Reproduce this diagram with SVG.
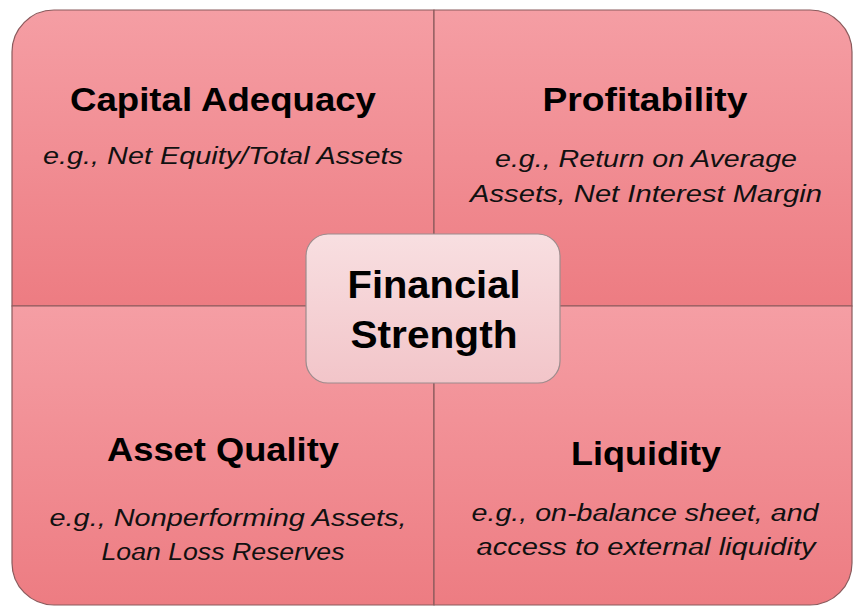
<svg xmlns="http://www.w3.org/2000/svg" width="853" height="606" viewBox="0 0 853 606">
<defs>
<linearGradient id="qg" x1="0" y1="0" x2="0" y2="1">
<stop offset="0" stop-color="#f59ea4"/>
<stop offset="1" stop-color="#ed7c82"/>
</linearGradient>
<linearGradient id="cg" x1="0" y1="0" x2="0" y2="1">
<stop offset="0" stop-color="#f8dfe1"/>
<stop offset="1" stop-color="#f2c5c9"/>
</linearGradient>
</defs>
<style>
.q{fill:url(#qg);stroke:#8a5a5c;stroke-width:1.2}
.t{font-family:"Liberation Sans",Arial,sans-serif;font-weight:bold;font-size:34px;fill:#000;text-anchor:middle}
.s{font-family:"Liberation Sans",Arial,sans-serif;font-style:italic;font-size:23px;fill:#111;text-anchor:middle}
.c{font-family:"Liberation Sans",Arial,sans-serif;font-weight:bold;font-size:38px;fill:#000;text-anchor:middle}
</style>
<g id="capital-adequacy">
<path class="q" d="M12,306 V52 A42,42 0 0 1 54,10 H434 V306 Z"/>
<text class="t" x="223" y="111" textLength="306" lengthAdjust="spacingAndGlyphs">Capital Adequacy</text>
<text class="s" x="223" y="164" textLength="360" lengthAdjust="spacingAndGlyphs">e.g., Net Equity/Total Assets</text>
</g>
<g id="profitability">
<path class="q" d="M434,306 V10 H810 A42,42 0 0 1 852,52 V306 Z"/>
<text class="t" x="645" y="111" textLength="205" lengthAdjust="spacingAndGlyphs">Profitability</text>
<text class="s" x="646" y="167" textLength="302" lengthAdjust="spacingAndGlyphs">e.g., Return on Average</text>
<text class="s" x="646" y="202" textLength="352" lengthAdjust="spacingAndGlyphs">Assets, Net Interest Margin</text>
</g>
<g id="asset-quality">
<path class="q" d="M12,306 H434 V605 H54 A42,42 0 0 1 12,563 Z"/>
<text class="t" x="223" y="461" textLength="232" lengthAdjust="spacingAndGlyphs">Asset Quality</text>
<text class="s" x="228" y="526" textLength="357" lengthAdjust="spacingAndGlyphs">e.g., Nonperforming Assets,</text>
<text class="s" x="223" y="560" textLength="243" lengthAdjust="spacingAndGlyphs">Loan Loss Reserves</text>
</g>
<g id="liquidity">
<path class="q" d="M434,306 H852 V563 A42,42 0 0 1 810,605 H434 Z"/>
<text class="t" x="646" y="465" textLength="150" lengthAdjust="spacingAndGlyphs">Liquidity</text>
<text class="s" x="645" y="521" textLength="347" lengthAdjust="spacingAndGlyphs">e.g., on-balance sheet, and</text>
<text class="s" x="646" y="555" textLength="339" lengthAdjust="spacingAndGlyphs">access to external liquidity</text>
</g>
<g id="financial-strength">
<rect x="306" y="234" width="254" height="149" rx="22" fill="url(#cg)" stroke="#9c8c8d" stroke-width="1.2"/>
<text class="c" x="434" y="298" textLength="173" lengthAdjust="spacingAndGlyphs">Financial</text>
<text class="c" x="434" y="348" textLength="167" lengthAdjust="spacingAndGlyphs">Strength</text>
</g>
<g id="connectors"/>
</svg>
